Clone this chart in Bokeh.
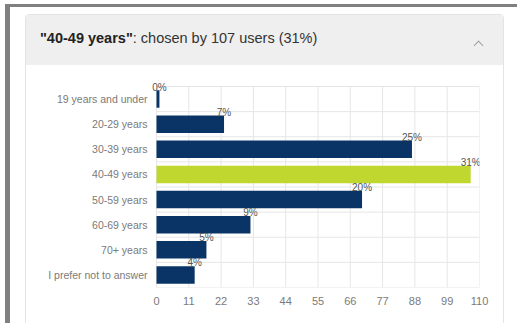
from bokeh.plotting import figure
from bokeh.models import ColumnDataSource, Range1d, FixedTicker, Div
from bokeh.layouts import column
from bokeh.embed import file_html
from bokeh.resources import INLINE
from bokeh.core.properties import value

# ---- data ----
categories = ["19 years and under", "20-29 years", "30-39 years", "40-49 years",
              "50-59 years", "60-69 years", "70+ years", "I prefer not to answer"]
users = [1, 23, 87, 107, 70, 32, 17, 13]
percent_labels = ["0%", "7%", "25%", "31%", "20%", "9%", "5%", "4%"]
highlight = "40-49 years"
x_ticks = [0, 11, 22, 33, 44, 55, 66, 77, 88, 99, 110]
title_bold = '"40-49 years"'
title_rest = ": chosen by 107 users (31%)"

NAVY = "#0b3466"
GREEN = "#c0d72f"
n = len(categories)
ypos = [n - i - 0.5 for i in range(n)]
colors = [GREEN if c == highlight else NAVY for c in categories]
src = ColumnDataSource(dict(y=ypos, val=users, pct=percent_labels, color=colors))

W, H = 517, 323
HEAD = 65
X0, X1, Y0, Y1 = 156, 479, 86, 287       # chart area (value 0..110, categories) in page px
PADL, PADT = 7, 9                         # room for labels outside the chart area
px_per_unit = (X1 - X0) / (x_ticks[-1] - x_ticks[0])
band_px = (Y1 - Y0) / n
FL, FT = X0 - PADL, Y0 - PADT

# ---- header / page decoration (HTML) ----
header_html = f"""
<div style="position:relative;width:{W}px;height:{HEAD}px;font-family:'Liberation Sans',Arial,sans-serif;">
  <div style="position:absolute;left:5px;top:4px;width:512px;height:3px;background:#808080;"></div>
  <div style="position:absolute;left:5px;top:4px;width:5px;height:{H-4}px;background:#808080;"></div>
  <div style="position:absolute;left:25px;top:14px;width:479px;height:{H}px;box-sizing:border-box;
              border:1px solid #e4e4e4;border-radius:4px 4px 0 0;"></div>
  <div style="position:absolute;left:26px;top:15px;width:477px;height:{HEAD-15}px;background:#efefef;
              border-radius:3px 3px 0 0;"></div>
  <span style="position:absolute;left:40px;top:30px;font-size:14.5px;line-height:normal;color:#333333;
               white-space:nowrap;"><b style="color:#222222;">{title_bold}</b>{title_rest}</span>
  <div style="position:absolute;left:474.5px;top:41.5px;width:7px;height:7px;box-sizing:border-box;
              border-top:1.5px solid #a0a0a0;border-left:1.5px solid #a0a0a0;transform:rotate(45deg);"></div>
</div>
"""
header = Div(text=header_html, width=W, height=HEAD, margin=0, styles={"overflow": "visible"})

# ---- chart ----
p = figure(width=W, height=H - HEAD, output_backend="svg", toolbar_location=None,
           x_range=Range1d(x_ticks[0] - PADL / px_per_unit, x_ticks[-1]),
           y_range=Range1d(0, n + PADT / band_px),
           min_border_left=FL, min_border_right=W - X1,
           min_border_top=FT - HEAD, min_border_bottom=H - Y1, margin=0)
p.outline_line_color = None
p.background_fill_color = "white"
p.border_fill_alpha = 0
p.xgrid.grid_line_color = None
p.ygrid.grid_line_color = None

# grid lines limited to the chart area
p.segment(x0=x_ticks, y0=[0] * len(x_ticks), x1=x_ticks, y1=[n] * len(x_ticks),
          line_color="#e6e6e6", line_width=1)
bounds = list(range(n + 1))
p.segment(x0=[x_ticks[0]] * (n + 1), y0=bounds, x1=[x_ticks[-1]] * (n + 1), y1=bounds,
          line_color="#e6e6e6", line_width=1)

p.hbar(y="y", right="val", left=0, height=0.7, color="color", line_color=None, source=src)
p.text(x="val", y="y", text="pct", source=src, text_align="center",
       text_baseline="middle", y_offset=-12, text_font=value("Liberation Sans"),
       text_font_size="10px", text_color="#555555")

p.xaxis.ticker = FixedTicker(ticks=x_ticks)
p.yaxis.ticker = FixedTicker(ticks=ypos)
p.yaxis.major_label_overrides = {y: c for y, c in zip(ypos, categories)}

for ax in (p.xaxis, p.yaxis):
    ax.axis_line_color = None
    ax.major_tick_line_color = None
    ax.minor_tick_line_color = None
    ax.major_tick_out = 0
    ax.major_tick_in = 0
    ax.major_label_text_font = "Liberation Sans"
    ax.major_label_text_color = "#7a7a7a"
p.xaxis.major_label_text_font_size = "11px"
p.yaxis.major_label_text_font_size = "10.5px"
p.xaxis.major_label_standoff = 9
p.yaxis.major_label_standoff = 9 - PADL

layout = column(header, p, spacing=0, margin=0)
open("out.html", "w").write(file_html(layout, INLINE))
